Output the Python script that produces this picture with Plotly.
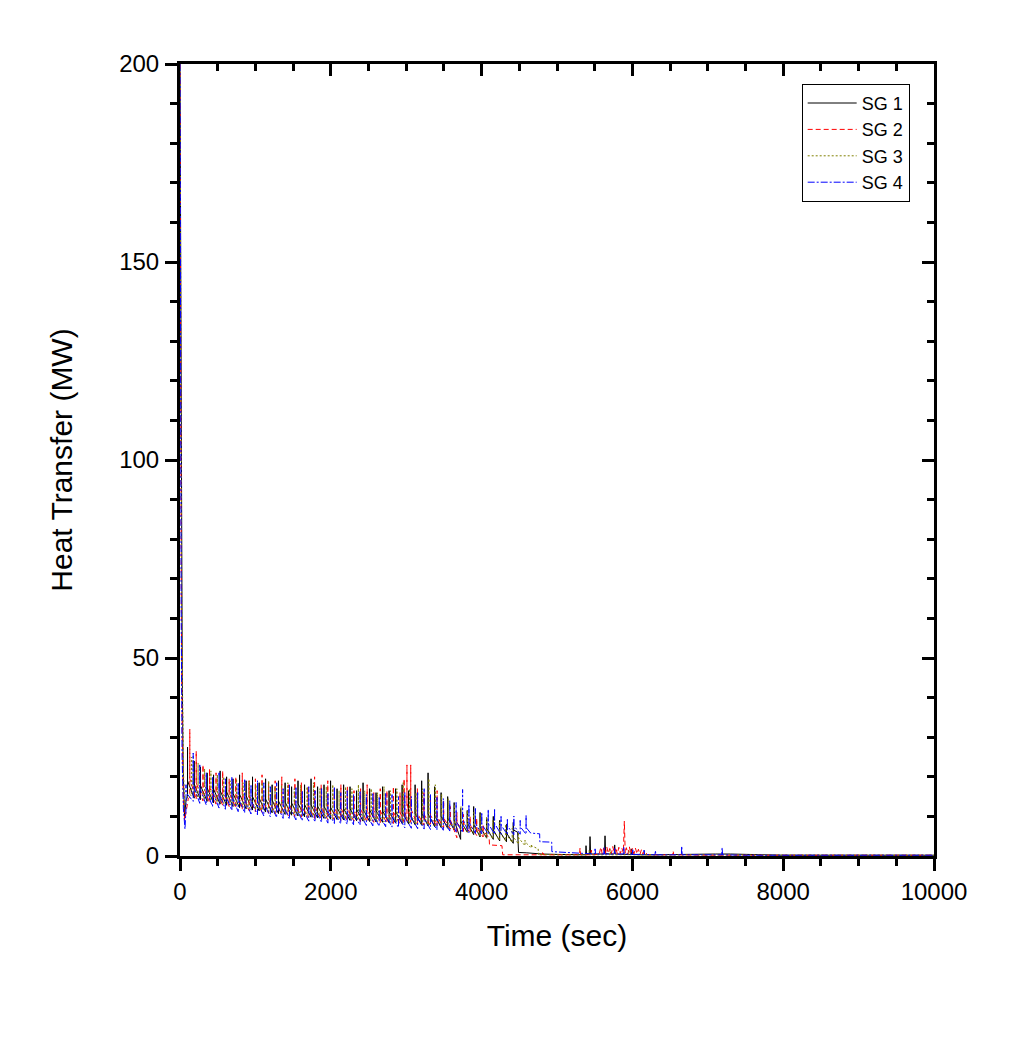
import plotly.graph_objects as go

# --- data (time in sec, heat transfer in MW) ---
# each SG: initial blowdown transient, relief-valve cycling (spike times,
# value just before the spike, spike value, value right after the spike),
# then the late tail

sg1_head_t = [0, 10, 20, 30, 42, 60, 80]
sg1_head_q = [200, 130, 70, 45, 22, 10, 14]
sg1_cyc_t = [100, 188, 272, 360, 445, 532, 618, 703, 790, 877,
             962, 1050, 1135, 1222, 1306, 1394, 1480, 1565, 1652, 1738,
             1825, 1910, 1997, 2083, 2170, 2255, 2342, 2428, 2515, 2600,
             2687, 2773, 2860, 2946, 3032, 3118, 3205, 3290, 3377, 3463,
             3550, 3636, 3722, 3810, 3895, 3980, 4068, 4155, 4240, 4330,
             4420]
sg1_low = [15.0, 14.6, 14.2, 13.8, 13.4, 13.1, 12.8, 12.5, 12.2, 11.9,
           11.6, 11.4, 11.1, 10.9, 10.7, 10.5, 10.3, 10.1, 9.9, 9.8,
           9.6, 9.5, 9.3, 9.2, 9.1, 9.0, 8.9, 8.8, 8.7, 8.6,
           8.5, 8.4, 8.3, 8.2, 8.1, 7.9, 7.8, 7.6, 7.4, 7.2,
           7.0, 6.6, 4.2, 6.0, 5.4, 4.8, 4.5, 4.2, 3.8, 3.6,
           3.2]
sg1_peak = [27.5, 24.0, 22.5, 21.0, 20.5, 21.5, 20.0, 19.5, 20.5, 19.0,
            20.0, 18.5, 19.5, 18.0, 19.0, 18.5, 17.5, 19.0, 18.0, 19.5,
            17.5, 18.0, 19.0, 17.0, 18.0, 17.5, 16.5, 18.5, 17.0, 16.0,
            17.5, 16.5, 17.0, 18.0, 16.5, 18.0, 19.0, 21.0, 17.5, 16.0,
            15.0, 13.5, 12.0, 11.5, 12.5, 11.0, 9.5, 10.0, 9.0, 8.0,
            8.5]
sg1_post = [19.0, 18.2, 17.8, 17.2, 16.9, 16.5, 16.2, 15.8, 15.6, 15.2,
            15.0, 14.6, 14.4, 14.1, 13.9, 13.6, 13.4, 13.3, 13.0, 12.9,
            12.6, 12.6, 12.3, 12.2, 12.0, 12.0, 11.8, 11.8, 11.6, 11.5,
            11.4, 11.2, 11.2, 11.0, 11.0, 10.7, 10.8, 10.6, 10.2, 10.0,
            9.6, 9.0, 8.8, 8.4, 8.0, 7.4, 7.0, 6.6, 6.2, 5.8,
            6.6]
sg1_tail_t = [4478, 4485, 4490, 4600, 4800, 5000, 5200, 5380, 5385, 5392,
              5432, 5438, 5446, 5550, 5630, 5637, 5645, 5700, 5760, 5765,
              5772, 5900, 5980, 5985, 5992, 6100, 6300, 7100, 7300, 8000, 10000]
sg1_tail_q = [6.0, 1.1, 0.9, 0.8, 0.5, 0.4, 0.3, 0.3, 2.6, 0.4,
              0.4, 4.9, 0.5, 0.4, 0.5, 5.1, 0.6, 0.5, 0.5, 2.8,
              0.5, 0.4, 0.4, 1.8, 0.4, 0.3, 0.3, 0.5, 0.5, 0.2, 0.2]

sg2_head_t = [0, 8, 18, 30, 45, 62, 90, 110]
sg2_head_q = [200, 120, 62, 30, 14, 9, 13, 14.5]
sg2_cyc_t = [130, 215, 305, 392, 478, 566, 652, 740, 826, 914,
             1000, 1088, 1175, 1262, 1350, 1436, 1524, 1610, 1698, 1785,
             1872, 1960, 2046, 2134, 2220, 2308, 2395, 2482, 2570, 2656,
             2744, 2830, 2918, 2972, 3010, 3060, 3148, 3235, 3322, 3410,
             3497, 3585, 3672, 3760, 3848, 3935, 4020]
sg2_low = [14.8, 14.3, 13.9, 13.5, 13.1, 12.8, 12.5, 12.1, 11.8, 11.5,
           11.2, 11.0, 10.8, 10.6, 10.4, 10.2, 10.0, 9.8, 9.7, 9.5,
           9.4, 9.2, 9.1, 9.0, 8.9, 8.8, 8.7, 8.6, 8.5, 8.4,
           8.3, 8.2, 8.1, 8.6, 8.8, 8.5, 8.0, 7.8, 7.6, 7.4,
           7.1, 6.8, 4.6, 6.2, 5.8, 5.2, 4.8]
sg2_peak = [32.0, 26.5, 23.0, 22.0, 21.0, 21.5, 19.5, 20.0, 21.0, 19.0,
            19.5, 20.5, 18.5, 19.0, 20.0, 18.0, 19.5, 18.5, 17.5, 20.0,
            18.0, 19.0, 17.0, 18.0, 17.5, 16.5, 17.0, 18.0, 16.0, 17.0,
            16.5, 17.5, 16.0, 19.5, 23.0, 23.0, 17.0, 16.0, 15.5, 16.5,
            14.0, 12.5, 11.0, 10.5, 10.0, 9.5, 8.0]
sg2_post = [19.5, 18.5, 17.8, 17.4, 17.0, 16.6, 16.2, 15.8, 15.5, 15.1,
            14.8, 14.5, 14.3, 14.0, 13.8, 13.6, 13.3, 13.1, 13.0, 12.8,
            12.6, 12.4, 12.2, 12.1, 12.0, 11.9, 11.8, 11.6, 11.5, 11.4,
            11.2, 11.1, 11.0, 12.5, 13.5, 12.0, 10.8, 10.6, 10.3, 10.0,
            9.6, 9.2, 8.5, 8.4, 7.8, 7.2, 6.5]
sg2_tail_t = [4100, 4105, 4270, 4280, 4500, 4700, 4805, 4810, 4820, 5000,
              5200, 5300, 5305, 5312, 5450, 5455, 5462,
              5560, 5580, 5600, 5620, 5640, 5660, 5680, 5700, 5720, 5740,
              5760, 5780, 5800, 5820, 5840, 5860, 5880, 5893, 5905,
              5920, 5940, 5960, 5980, 6000, 6020, 6040, 6060, 6080, 6100,
              6120, 6140, 6160, 6200, 6535, 6540, 6548, 7000, 10000]
sg2_tail_q = [4.5, 2.8, 2.6, 0.3, 0.3, 0.3, 0.3, 1.2, 0.3, 0.3,
              0.3, 0.3, 2.0, 0.3, 0.3, 1.5, 0.3,
              0.4, 2.2, 0.6, 2.0, 0.5, 2.3, 0.7, 1.9, 0.5, 2.4,
              0.6, 2.1, 0.5, 2.2, 0.6, 2.0, 0.8, 8.8, 0.7,
              2.1, 0.5, 2.3, 0.6, 1.9, 0.5, 2.0, 0.6, 1.7, 0.4,
              1.6, 0.5, 1.3, 0.3, 0.3, 1.3, 0.3, 0.2, 0.2]

sg3_head_t = [0, 10, 22, 32, 48, 65, 95, 130]
sg3_head_q = [200, 125, 65, 44, 20, 13, 15, 15.5]
sg3_cyc_t = [155, 240, 326, 410, 496, 580, 666, 750, 836, 920,
             1006, 1090, 1176, 1260, 1346, 1430, 1516, 1600, 1686, 1770,
             1856, 1940, 2026, 2110, 2196, 2280, 2366, 2450, 2536, 2620,
             2706, 2790, 2876, 2960, 3046, 3130, 3216, 3300, 3386, 3470,
             3556, 3640, 3726, 3810, 3896, 3980, 4066, 4150, 4236, 4320,
             4406, 4490, 4576, 4660]
sg3_low = [15.2, 14.7, 14.3, 13.9, 13.5, 13.2, 12.9, 12.6, 12.3, 12.0,
           11.7, 11.5, 11.2, 11.0, 10.8, 10.6, 10.4, 10.2, 10.0, 9.9,
           9.7, 9.6, 9.4, 9.3, 9.2, 9.1, 9.0, 8.9, 8.8, 8.7,
           8.6, 8.5, 8.4, 8.3, 8.2, 8.0, 7.9, 7.7, 7.5, 7.3,
           7.1, 6.8, 6.5, 6.1, 5.6, 5.0, 4.6, 4.3, 4.0, 3.8,
           3.4, 3.0, 2.6, 2.0]
sg3_peak = [25.0, 23.5, 22.0, 21.5, 20.5, 20.0, 19.0, 19.5, 18.5, 19.0,
            18.0, 18.5, 19.0, 17.5, 18.0, 18.5, 17.0, 18.0, 17.5, 18.5,
            17.0, 17.5, 18.0, 16.5, 17.5, 17.0, 18.0, 16.5, 17.0, 16.0,
            17.5, 16.5, 17.0, 18.5, 17.0, 16.0, 17.0, 19.5, 18.0, 15.5,
            14.5, 13.0, 12.5, 11.5, 11.0, 10.5, 10.0, 9.0, 8.5, 8.0,
            7.0, 6.0, 4.0, 3.0]
sg3_post = [19.2, 18.4, 17.9, 17.4, 17.0, 16.6, 16.3, 15.9, 15.6, 15.3,
            15.0, 14.7, 14.4, 14.2, 14.0, 13.7, 13.5, 13.3, 13.1, 13.0,
            12.8, 12.7, 12.5, 12.3, 12.2, 12.1, 12.0, 11.8, 11.7, 11.6,
            11.5, 11.3, 11.2, 11.1, 11.0, 10.8, 10.7, 10.6, 10.3, 10.0,
            9.6, 9.2, 8.8, 8.4, 7.8, 7.2, 6.8, 6.4, 6.0, 5.6,
            5.2, 4.6, 3.6, 2.6]
sg3_tail_t = [4750, 4755, 5000, 5300, 5420, 5425, 5432, 5700, 5705, 5712,
              5950, 5955, 5962, 6250, 8000, 10000]
sg3_tail_q = [1.8, 0.4, 0.3, 0.3, 0.3, 1.4, 0.3, 0.3, 1.6, 0.3,
              0.3, 1.2, 0.3, 0.3, 0.2, 0.2]

sg4_head_t = [0, 8, 16, 28, 45, 66]
sg4_head_q = [200, 115, 60, 25, 12, 6.8]
sg4_cyc_t = [80, 175, 262, 348, 432, 518, 602, 688, 772, 858,
             942, 1028, 1112, 1198, 1282, 1368, 1452, 1538, 1622, 1708,
             1792, 1878, 1962, 2048, 2132, 2218, 2302, 2388, 2472, 2558,
             2642, 2728, 2812, 2898, 2982, 3068, 3152, 3238, 3322, 3408,
             3492, 3578, 3662, 3748, 3832, 3918, 4002, 4088, 4172, 4258,
             4342, 4428, 4512, 4590]
sg4_low = [12.0, 13.8, 13.3, 12.9, 12.5, 12.1, 11.8, 11.5, 11.2, 10.9,
           10.6, 10.4, 10.1, 9.9, 9.7, 9.5, 9.3, 9.1, 8.9, 8.8,
           8.6, 8.5, 8.3, 8.2, 8.1, 8.0, 7.9, 7.8, 7.7, 7.6,
           7.5, 7.4, 7.3, 7.2, 7.1, 7.0, 6.9, 6.8, 6.7, 6.6,
           6.5, 6.3, 6.1, 5.9, 5.8, 5.7, 5.6, 5.6, 5.5, 5.5,
           5.4, 5.4, 5.5, 5.5]
sg4_peak = [18.0, 26.0, 23.0, 21.0, 20.0, 21.0, 19.5, 20.0, 18.5, 19.5,
            18.0, 19.0, 18.5, 17.5, 18.5, 17.0, 18.0, 17.5, 16.5, 17.5,
            16.5, 17.0, 16.0, 17.5, 16.0, 16.5, 15.5, 16.5, 15.5, 16.0,
            15.0, 16.0, 15.5, 15.0, 16.0, 15.0, 16.0, 17.0, 15.5, 15.0,
            14.5, 14.0, 13.5, 16.8, 13.0, 12.0, 11.0, 11.8, 12.0, 10.0,
            9.5, 10.1, 9.0, 10.2]
sg4_post = [16.0, 18.0, 17.2, 16.6, 16.2, 15.8, 15.4, 15.0, 14.6, 14.3,
            14.0, 13.7, 13.4, 13.2, 12.9, 12.7, 12.4, 12.2, 12.0, 11.8,
            11.6, 11.5, 11.3, 11.1, 11.0, 10.9, 10.8, 10.7, 10.6, 10.5,
            10.4, 10.3, 10.2, 10.0, 9.9, 9.8, 9.7, 9.6, 9.5, 9.4,
            9.2, 9.0, 8.8, 9.5, 8.5, 8.2, 8.0, 8.2, 8.2, 7.8,
            7.6, 7.7, 7.4, 7.2]
sg4_tail_t = [4650, 4770, 4772, 4930, 4932, 5150, 5400, 5500, 5505, 5512,
              5620, 5625, 5632, 5760, 5765, 5772, 5880, 5885, 5892, 6000,
              6005, 6012, 6150, 6155, 6162, 6300, 6305, 6312, 6650, 6654,
              6660, 7185, 7190, 7196, 7500, 10000]
sg4_tail_q = [5.8, 5.6, 3.6, 3.5, 1.1, 0.8, 0.6, 0.5, 1.8, 0.5,
              0.5, 2.2, 0.5, 0.5, 1.9, 0.5, 0.5, 2.3, 0.5, 0.4,
              1.8, 0.4, 0.4, 1.5, 0.4, 0.3, 1.4, 0.3, 0.3, 2.5,
              0.3, 0.3, 2.1, 0.3, 0.2, 0.2]

names = ['SG 1', 'SG 2', 'SG 3', 'SG 4']
colors = ['#000000', '#FF0000', '#808000', '#0000FF']
dashes = ['solid', '5px,3px', '2px,2px', '7px,2px,2px,2px']


def build(head_t, head_q, cyc_t, low, peak, post, tail_t, tail_q):
    # relief valve spikes: straight up to the spike and back down at the same time
    x = list(head_t)
    y = list(head_q)
    for t, lo, pk, po in zip(cyc_t, low, peak, post):
        x += [t, t, t]
        y += [lo, pk, po]
    return x + tail_t, y + tail_q


series = [
    build(sg1_head_t, sg1_head_q, sg1_cyc_t, sg1_low, sg1_peak, sg1_post, sg1_tail_t, sg1_tail_q),
    build(sg2_head_t, sg2_head_q, sg2_cyc_t, sg2_low, sg2_peak, sg2_post, sg2_tail_t, sg2_tail_q),
    build(sg3_head_t, sg3_head_q, sg3_cyc_t, sg3_low, sg3_peak, sg3_post, sg3_tail_t, sg3_tail_q),
    build(sg4_head_t, sg4_head_q, sg4_cyc_t, sg4_low, sg4_peak, sg4_post, sg4_tail_t, sg4_tail_q),
]

fig = go.Figure()
for (x, y), name, c, d in zip(series, names, colors, dashes):
    fig.add_trace(go.Scatter(x=x, y=y, name=name, mode='lines',
                             line=dict(color=c, width=1, dash=d)))

# empty trace so the top/right mirror axes get drawn
fig.add_trace(go.Scatter(x=[], y=[], xaxis='x2', yaxis='y2', showlegend=False,
                         hoverinfo='skip'))

font = 'Liberation Sans, Arial, sans-serif'
fig.update_layout(
    width=1017, height=1062,
    margin=dict(l=172, r=91, t=56, b=214),
    plot_bgcolor='white', paper_bgcolor='white',
    font=dict(family=font, color='black'),
    showlegend=True,
    legend=dict(x=0.8245, y=0.975, xanchor='left', yanchor='top',
                bgcolor='white', bordercolor='black', borderwidth=1,
                font=dict(size=18), itemwidth=49, tracegroupgap=0),
    xaxis=dict(range=[0, 10000], tick0=0, dtick=2000, tickformat='d',
               ticks='outside', ticklen=12, tickwidth=3, tickcolor='black',
               minor=dict(dtick=500, ticks='outside', ticklen=7, tickwidth=3,
                          tickcolor='black'),
               showline=True, linewidth=3, linecolor='black', mirror=True,
               showgrid=False, zeroline=False, layer='below traces',
               automargin=False, ticklabelstandoff=0,
               tickfont=dict(size=24),
               title=dict(text='Time (sec)', font=dict(size=30), standoff=22)),
    yaxis=dict(range=[0, 200], tick0=0, dtick=50, ticks='outside',
               ticklen=12, tickwidth=3, tickcolor='black',
               minor=dict(dtick=10, ticks='outside', ticklen=7, tickwidth=3,
                          tickcolor='black'),
               showline=True, linewidth=3, linecolor='black', mirror=True,
               showgrid=False, zeroline=False, layer='below traces',
               automargin=False, ticklabelstandoff=1,
               tickfont=dict(size=24),
               title=dict(text='Heat Transfer (MW)', font=dict(size=30), standoff=38)),
    xaxis2=dict(range=[0, 10000], overlaying='x', side='top', anchor='y2',
                tick0=0, dtick=2000, ticks='inside', ticklen=12, tickwidth=3,
                tickcolor='black',
                minor=dict(dtick=500, ticks='inside', ticklen=7, tickwidth=3,
                           tickcolor='black'),
                showticklabels=False, showline=False, showgrid=False,
                zeroline=False, automargin=False),
    yaxis2=dict(range=[0, 200], overlaying='y', side='right', anchor='x2',
                tick0=0, dtick=50, ticks='inside', ticklen=12, tickwidth=3,
                tickcolor='black',
                minor=dict(dtick=10, ticks='inside', ticklen=7, tickwidth=3,
                           tickcolor='black'),
                showticklabels=False, showline=False, showgrid=False,
                zeroline=False, automargin=False),
)

fig.write_html("out.html")
